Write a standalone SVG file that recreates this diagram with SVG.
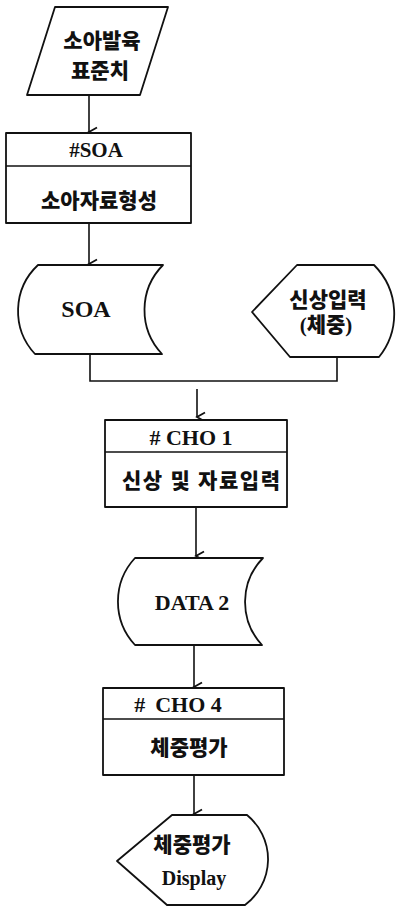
<svg xmlns="http://www.w3.org/2000/svg" width="397" height="909" viewBox="0 0 397 909">
  <defs>
    <style>
      .shape { fill: #ffffff; stroke: #111111; stroke-width: 1.8; stroke-linejoin: round; }
      .line { fill: none; stroke: #111111; stroke-width: 1.6; }
      .txt { font-family: "Liberation Serif", "Noto Sans CJK KR", serif; font-weight: bold; fill: #111111; text-anchor: middle; }
      .ko { font-size: 21px; font-weight: 900; }
      .en { font-size: 22px; }
    </style>
    <marker id="vhead" viewBox="0 0 12 12" refX="6" refY="11" markerWidth="12" markerHeight="12" markerUnits="userSpaceOnUse" orient="auto" overflow="visible">
      <path d="M1.5,3 L6,11 L10.5,3" fill="none" stroke="#111111" stroke-width="1.8"/>
    </marker>
  </defs>
  <rect width="397" height="909" fill="#ffffff"/>

  <!-- connectors -->
  <g id="connectors">
    <line class="line" x1="89" y1="95" x2="89" y2="132" marker-end="url(#vhead)"/>
    <line class="line" x1="89" y1="223" x2="89" y2="264" marker-end="url(#vhead)"/>
    <polyline class="line" points="90,354 90,381 337,381 337,357"/>
    <line class="line" x1="197" y1="389" x2="197" y2="417" marker-end="url(#vhead)"/>
    <line class="line" x1="196" y1="507" x2="196" y2="556" marker-end="url(#vhead)"/>
    <line class="line" x1="194" y1="645" x2="194" y2="687" marker-end="url(#vhead)"/>
    <line class="line" x1="194" y1="775" x2="194" y2="814" marker-end="url(#vhead)"/>
  </g>

  <!-- input: growth standard -->
  <g id="n-standard">
    <polygon class="shape" points="55,7 168,7 140,95 27,95"/>
    <text class="txt ko" x="102" y="48">소아발육</text>
    <text class="txt ko" x="100" y="78">표준치</text>
  </g>

  <!-- process #SOA -->
  <g id="n-soa-proc">
    <rect class="shape" x="6" y="133" width="185" height="90"/>
    <line class="line" x1="6" y1="166" x2="191" y2="166"/>
    <text class="txt" x="96" y="157" font-size="21">#SOA</text>
    <text class="txt ko" x="99" y="208">소아자료형성</text>
  </g>

  <!-- stored data SOA -->
  <g id="n-soa-file">
    <path class="shape" d="M38,265 L163,265 A64,64 0 0 0 162,354 L35,354 A63,63 0 0 1 38,265 Z"/>
    <text class="txt" x="86" y="317" font-size="24">SOA</text>
  </g>

  <!-- display/input: body measurement -->
  <g id="n-body-input">
    <path class="shape" d="M252,312 L297,265 L374,265 A69,69 0 0 1 379,357 L290,357 Z"/>
    <text class="txt ko" x="328" y="307">신상입력</text>
    <text class="txt ko" x="326" y="332">(체중)</text>
  </g>

  <!-- process # CHO 1 -->
  <g id="n-cho1">
    <rect class="shape" x="105" y="420" width="182" height="87"/>
    <line class="line" x1="105" y1="452" x2="287" y2="452"/>
    <text class="txt en" x="191" y="445"># CHO 1</text>
    <text class="txt ko" x="201" y="488" textLength="158" lengthAdjust="spacing">신상 및 자료입력</text>
  </g>

  <!-- stored data DATA 2 -->
  <g id="n-data2">
    <path class="shape" d="M135,558 L263,558 A63,63 0 0 0 262,645 L135,645 A64,64 0 0 1 135,558 Z"/>
    <text class="txt en" x="192" y="610">DATA 2</text>
  </g>

  <!-- process # CHO 4 -->
  <g id="n-cho4">
    <rect class="shape" x="103" y="688" width="181" height="87"/>
    <line class="line" x1="103" y1="719" x2="284" y2="719"/>
    <text class="txt en" x="178" y="712">#<tspan dx="10">CHO 4</tspan></text>
    <text class="txt ko" x="189" y="755">체중평가</text>
  </g>

  <!-- display: weight evaluation -->
  <g id="n-display">
    <path class="shape" d="M117,861 L172,815 L247,815 A57,57 0 0 1 245,905 L167,905 Z"/>
    <text class="txt ko" x="192" y="852">체중평가</text>
    <text class="txt" x="194" y="885" font-size="20">Display</text>
  </g>
</svg>
